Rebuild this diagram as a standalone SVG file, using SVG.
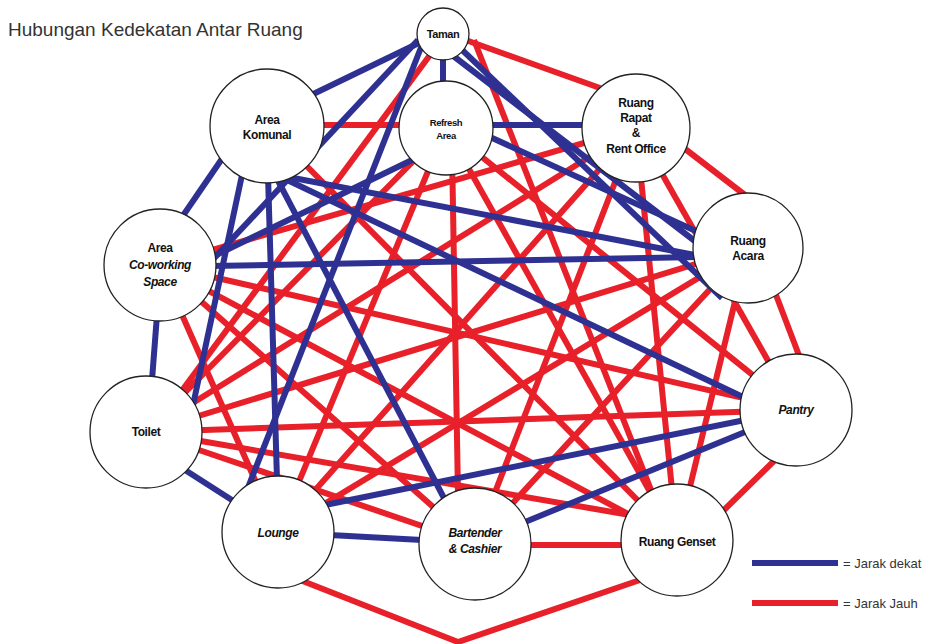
<svg xmlns="http://www.w3.org/2000/svg" width="934" height="644" viewBox="0 0 934 644">
<style>
.b{stroke:#2E3192;stroke-width:6;fill:none}
.r{stroke:#E8202A;stroke-width:6;fill:none}
.n{fill:#fff;stroke:#222;stroke-width:1.3}
.t{font-family:"Liberation Sans",Arial,sans-serif;font-weight:bold;font-size:12px;fill:#111;text-anchor:middle;letter-spacing:-0.4px}
.i{font-style:italic}
.title{font-family:"Liberation Sans",Arial,sans-serif;font-size:19px;fill:#333}
.lg{font-family:"Liberation Sans",Arial,sans-serif;font-size:13px;fill:#333}
</style>
<rect width="934" height="644" fill="#fff"/>
<text class="title" x="8" y="36">Hubungan Kedekatan Antar Ruang</text>
<g id="connectors">
<!-- red: jarak jauh -->
<line class="r" x1="460" y1="38" x2="600" y2="88"/>
<line class="r" x1="430" y1="55" x2="175" y2="400"/>
<line class="r" x1="474" y1="40" x2="655" y2="500"/>
<line class="r" x1="452" y1="150" x2="458" y2="495"/>
<line class="r" x1="318" y1="125" x2="402" y2="125"/>
<line class="r" x1="267" y1="126" x2="677" y2="540"/>
<line class="r" x1="446" y1="128" x2="796" y2="410"/>
<line class="r" x1="446" y1="128" x2="146" y2="432"/>
<line class="r" x1="446" y1="128" x2="278" y2="532"/>
<line class="r" x1="446" y1="128" x2="677" y2="540"/>
<line class="r" x1="680" y1="145" x2="745" y2="195"/>
<line class="r" x1="636" y1="128" x2="160" y2="265"/>
<line class="r" x1="636" y1="128" x2="796" y2="410"/>
<line class="r" x1="636" y1="128" x2="146" y2="432"/>
<line class="r" x1="636" y1="128" x2="278" y2="532"/>
<line class="r" x1="636" y1="128" x2="475" y2="544"/>
<line class="r" x1="636" y1="128" x2="677" y2="540"/>
<line class="r" x1="776" y1="295" x2="800" y2="358"/>
<line class="r" x1="748" y1="248" x2="146" y2="432"/>
<line class="r" x1="748" y1="248" x2="278" y2="532"/>
<line class="r" x1="748" y1="248" x2="475" y2="544"/>
<line class="r" x1="748" y1="248" x2="677" y2="540"/>
<line class="r" x1="160" y1="265" x2="796" y2="410"/>
<line class="r" x1="160" y1="265" x2="278" y2="532"/>
<line class="r" x1="160" y1="265" x2="475" y2="544"/>
<line class="r" x1="160" y1="265" x2="677" y2="540"/>
<line class="r" x1="146" y1="432" x2="796" y2="410"/>
<line class="r" x1="775" y1="460" x2="722" y2="512"/>
<line class="r" x1="146" y1="432" x2="475" y2="544"/>
<line class="r" x1="195" y1="440" x2="630" y2="515"/>
<polyline class="r" points="300,580 458,642 640,580"/>
<line class="r" x1="528" y1="545" x2="625" y2="545"/>
<!-- blue: jarak dekat -->
<line class="b" x1="425" y1="40" x2="305" y2="98"/>
<line class="b" x1="443" y1="50" x2="443" y2="90"/>
<line class="b" x1="418" y1="40" x2="205" y2="268"/>
<line class="b" x1="422" y1="45" x2="247" y2="490"/>
<line class="b" x1="452" y1="55" x2="700" y2="245"/>
<line class="b" x1="458" y1="46" x2="722" y2="298"/>
<line class="b" x1="283" y1="176" x2="700" y2="256"/>
<line class="b" x1="180" y1="220" x2="228" y2="150"/>
<line class="b" x1="283" y1="178" x2="745" y2="398"/>
<line class="b" x1="242" y1="175" x2="192" y2="410"/>
<line class="b" x1="268" y1="175" x2="277" y2="480"/>
<line class="b" x1="275" y1="175" x2="445" y2="500"/>
<line class="b" x1="488" y1="125" x2="586" y2="125"/>
<line class="b" x1="490" y1="137" x2="698" y2="232"/>
<line class="b" x1="412" y1="160" x2="210" y2="258"/>
<line class="b" x1="210" y1="266" x2="700" y2="257"/>
<line class="b" x1="157" y1="315" x2="152" y2="380"/>
<line class="b" x1="325" y1="505" x2="745" y2="420"/>
<line class="b" x1="525" y1="522" x2="745" y2="432"/>
<line class="b" x1="185" y1="470" x2="235" y2="502"/>
<line class="b" x1="330" y1="535" x2="422" y2="540"/>
</g>
<g id="taman"><circle class="n" cx="443" cy="34" r="26"/><text class="t" x="443" y="38" style="font-size:11px">Taman</text></g>
<g id="area-komunal"><circle class="n" cx="267" cy="126" r="57"/><text class="t" x="267" y="124">Area</text><text class="t" x="267" y="139">Komunal</text></g>
<g id="refresh-area"><circle class="n" cx="446" cy="128" r="47"/><text class="t" x="446" y="126" style="font-size:9.5px">Refresh</text><text class="t" x="446" y="139" style="font-size:9.5px">Area</text></g>
<g id="ruang-rapat"><circle class="n" cx="636" cy="128" r="54"/><text class="t" x="636" y="107">Ruang</text><text class="t" x="636" y="122">Rapat</text><text class="t" x="636" y="137">&amp;</text><text class="t" x="636" y="153">Rent Office</text></g>
<g id="ruang-acara"><circle class="n" cx="748" cy="248" r="55"/><text class="t" x="748" y="245">Ruang</text><text class="t" x="748" y="260">Acara</text></g>
<g id="co-working"><circle class="n" cx="160" cy="265" r="56"/><text class="t" x="160" y="252">Area</text><text class="t i" x="160" y="269">Co-working</text><text class="t i" x="160" y="286">Space</text></g>
<g id="pantry"><circle class="n" cx="796" cy="410" r="56"/><text class="t i" x="796" y="414">Pantry</text></g>
<g id="toilet"><circle class="n" cx="146" cy="432" r="56"/><text class="t" x="146" y="436">Toilet</text></g>
<g id="lounge"><circle class="n" cx="278" cy="532" r="56"/><text class="t i" x="278" y="537">Lounge</text></g>
<g id="bartender"><circle class="n" cx="475" cy="544" r="56"/><text class="t i" x="475" y="537">Bartender</text><text class="t i" x="475" y="553">&amp; Cashier</text></g>
<g id="ruang-genset"><circle class="n" cx="677" cy="540" r="56"/><text class="t" x="677" y="546">Ruang Genset</text></g>
<g id="legend">
<line class="b" x1="752" y1="563" x2="838" y2="563"/>
<text class="lg" x="843" y="568">= Jarak dekat</text>
<line class="r" x1="752" y1="603" x2="838" y2="603"/>
<text class="lg" x="843" y="608">= Jarak Jauh</text>
</g>
</svg>
